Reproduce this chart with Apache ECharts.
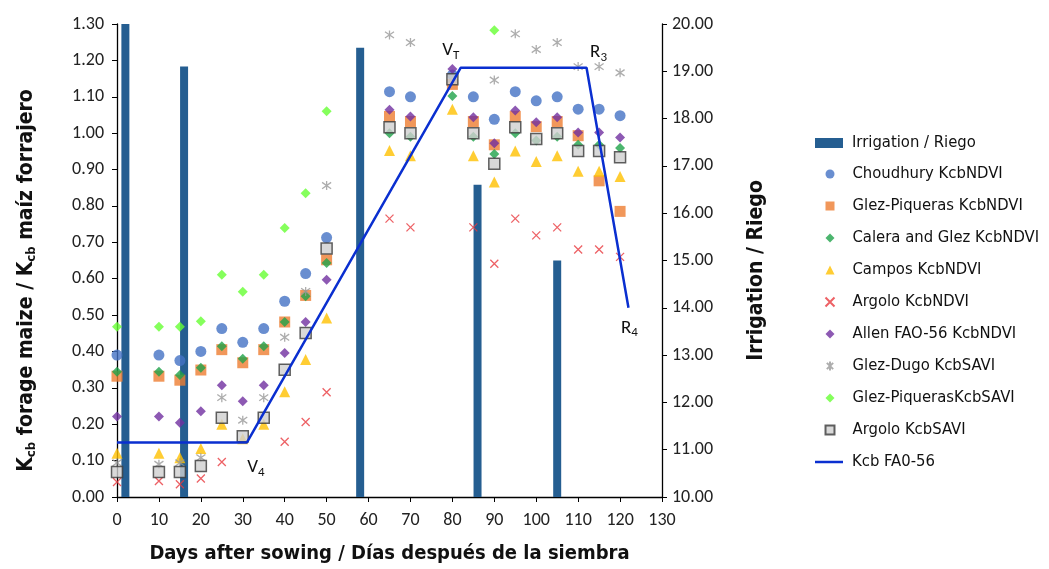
<!DOCTYPE html>
<html>
<head>
<meta charset="utf-8">
<script src="https://cdn.jsdelivr.net/npm/echarts@6/dist/echarts.min.js"></script>
<style>
  html, body { margin: 0; padding: 0; background: #fff; }
  #chart { width: 1049px; height: 569px; }
</style>
</head>
<body>
<div id="chart"></div>
<script>
// dias de muestreo
var days = [0, 10, 15, 20, 25, 30, 35, 40, 45, 50, 65, 70, 80, 85, 90, 95, 100, 105, 110, 115, 120];

var choudhury   = [0.39, 0.39, 0.375, 0.40, 0.463, 0.425, 0.463, 0.538, 0.614, 0.713, 1.114, 1.10, 1.16, 1.10, 1.038, 1.114, 1.089, 1.10, 1.066, 1.066, 1.048];
var glezPiqNdvi = [0.332, 0.332, 0.321, 0.349, 0.405, 0.369, 0.405, 0.481, 0.554, 0.652, 1.046, 1.032, 1.134, 1.032, 0.968, 1.046, 1.018, 1.032, 0.993, 0.869, 0.785];
var calera      = [0.344, 0.344, 0.335, 0.355, 0.414, 0.38, 0.414, 0.481, 0.552, 0.643, 1.0, 0.99, 1.102, 0.99, 0.943, 1.0, 0.98, 0.99, 0.968, 0.968, 0.959];
var campos      = [0.12, 0.12, 0.108, 0.133, 0.2, 0.16, 0.2, 0.289, 0.378, 0.492, 0.952, 0.938, 1.066, 0.938, 0.866, 0.951, 0.922, 0.938, 0.895, 0.895, 0.881];
var argoloNdvi  = [0.041, 0.044, 0.035, 0.051, 0.096, null, null, 0.152, 0.206, 0.288, 0.765, 0.741, null, 0.741, 0.641, 0.765, 0.719, 0.741, 0.68, 0.68, 0.66];
var allen       = [0.221, 0.221, 0.204, 0.236, 0.307, 0.263, 0.307, 0.396, 0.481, 0.597, 1.064, 1.046, 1.176, 1.044, 0.972, 1.062, 1.03, 1.044, 1.002, 1.002, 0.988];
var glezDugo    = [0.094, 0.09, 0.094, 0.108, 0.273, 0.211, 0.273, 0.439, 0.565, 0.856, 1.27, 1.249, 1.15, null, 1.146, 1.273, 1.23, 1.249, 1.183, 1.183, 1.166];
var glezPiqSavi = [0.468, 0.468, 0.468, 0.483, 0.611, 0.564, 0.611, 0.739, 0.835, 1.06, null, null, null, null, 1.283, null, null, null, null, null, null];
var argoloSavi  = [0.069, 0.069, 0.069, 0.085, 0.218, 0.167, 0.218, 0.35, 0.451, 0.683, 1.016, 1.0, 1.148, 1.0, 0.916, 1.016, 0.984, 1.0, 0.951, 0.951, 0.934];

// riegos (eje derecho)
var irrDays = [2, 16, 58, 86, 105];
var irrValues = [20, 19.1, 19.5, 16.6, 15.0];

// curva Kcb FAO-56
var kcbDays = [0, 31, 82, 112, 122];
var kcbValues = [0.15, 0.15, 1.18, 1.18, 0.52];
var stageNames = ['', '{a|V}{s|4}', '{a|V}{s|T}', '{a|R}{s|3}', '{a|R}{s|4}'];
var stageOffsets = [[0, 0], [9, 25], [-10, -17], [12, -15], [1, 20]];

var narrow = "'Liberation Sans Narrow', 'DejaVu Sans Condensed', 'Roboto Condensed', sans-serif";
var tickFont = "Carlito, Lato, sans-serif";

function pairs(ys) {
  return days.map(function (d, i) { return [d, ys[i]]; });
}

var crossPath = 'path://M0,0L10,10M10,0L0,10';
var starPath = 'path://M1.5,1.5L8.5,8.5M8.5,1.5L1.5,8.5M5,0L5,10';

var scatterDefs = [
  { name: 'Choudhury KcbNDVI', data: choudhury, symbol: 'circle', size: 11, style: { color: '#4472c4' } },
  { name: 'Glez-Piqueras KcbNDVI', data: glezPiqNdvi, symbol: 'rect', size: 11, style: { color: '#ed7d31' } },
  { name: 'Calera and Glez KcbNDVI', data: calera, symbol: 'diamond', size: 10, style: { color: '#1fa34a' } },
  { name: 'Campos KcbNDVI', data: campos, symbol: 'triangle', size: 11, style: { color: '#ffc000' } },
  { name: 'Argolo KcbNDVI', data: argoloNdvi, symbol: crossPath, size: 8, style: { color: 'rgba(0,0,0,0)', borderColor: '#e8393e', borderWidth: 1.3 } },
  { name: 'Allen FAO-56 KcbNDVI', data: allen, symbol: 'diamond', size: 10, style: { color: '#7030a0' } },
  { name: 'Glez-Dugo KcbSAVI', data: glezDugo, symbol: starPath, size: 9, style: { color: 'rgba(0,0,0,0)', borderColor: '#999999', borderWidth: 1.3 } },
  { name: 'Glez-PiquerasKcbSAVI', data: glezPiqSavi, symbol: 'diamond', size: 10, style: { color: '#66ff33' } },
  { name: 'Argolo KcbSAVI', data: argoloSavi, symbol: 'rect', size: 11, style: { color: '#d0d0d0', borderColor: '#3a3a3a', borderWidth: 1.5 } }
];

var series = [{
  name: 'Irrigation / Riego',
  type: 'bar',
  yAxisIndex: 1,
  barWidth: 8,
  clip: true,
  itemStyle: { color: '#255e91' },
  data: irrDays.map(function (d, i) { return [d, irrValues[i]]; })
}];

scatterDefs.forEach(function (s) {
  series.push({
    name: s.name,
    type: 'scatter',
    symbol: s.symbol,
    symbolSize: s.size,
    itemStyle: s.style,
    data: pairs(s.data)
  });
});

series.push({
  name: 'Kcb FA0-56',
  type: 'line',
  symbol: 'circle',
  symbolSize: 0,
  lineStyle: { color: '#0a2fd0', width: 2.5 },
  itemStyle: { color: '#0a2fd0' },
  data: kcbDays.map(function (d, i) {
    return {
      value: [d, kcbValues[i]],
      label: {
        show: stageNames[i] !== '',
        position: 'inside',
        offset: stageOffsets[i],
        formatter: stageNames[i],
        rich: {
          a: { fontSize: 19, fontFamily: tickFont, color: '#111' },
          s: { fontSize: 13, fontFamily: tickFont, color: '#111', padding: [10, 0, 0, 0] }
        }
      }
    };
  })
});

function legendText(padLeft) {
  return { fontFamily: narrow, fontSize: 16.5, color: '#111', lineHeight: 20, padding: [0, 0, 0, padLeft] };
}

var chart = echarts.init(document.getElementById('chart'));
chart.setOption({
  animation: false,
  backgroundColor: '#fff',
  grid: { left: 117, right: 387, top: 24, bottom: 71 },
  legend: [{
    orient: 'vertical', left: 815, top: 133, padding: 0,
    itemWidth: 28, itemHeight: 10,
    textStyle: legendText(4),
    data: [{ name: 'Irrigation / Riego', icon: 'rect' }]
  }, {
    orient: 'vertical', left: 824.5, top: 164, padding: 0,
    itemWidth: 9, itemHeight: 9, itemGap: 12,
    textStyle: legendText(13),
    data: scatterDefs.map(function (s) { return s.name; })
  }, {
    orient: 'vertical', left: 815, top: 452, padding: 0,
    itemWidth: 28, itemHeight: 2.5,
    textStyle: legendText(4),
    data: [{ name: 'Kcb FA0-56', icon: 'rect' }]
  }],
  xAxis: {
    type: 'value', min: 0, max: 130, interval: 10,
    name: 'Days after sowing / Días después de la siembra',
    nameLocation: 'middle', nameGap: 47,
    nameTextStyle: { fontFamily: narrow, fontSize: 20, fontWeight: 'bold', color: '#111' },
    axisLine: { lineStyle: { color: '#000', width: 1.3 } },
    axisTick: { length: 5, lineStyle: { color: '#000' } },
    axisLabel: { margin: 14, fontFamily: tickFont, fontSize: 18, color: '#222' },
    splitLine: { show: false }
  },
  yAxis: [{
    type: 'value', min: 0, max: 1.3, interval: 0.1,
    name: '{b|K}{bs|cb}{b| forage maize / }{b|K}{bs|cb}{b| maíz forrajero}',
    nameLocation: 'middle', nameGap: 79, nameRotate: 90,
    nameTextStyle: {
      padding: [0, 40, 0, 0],
      rich: {
        b: { fontFamily: narrow, fontSize: 21, fontWeight: 'bold', color: '#111' },
        bs: { fontFamily: narrow, fontSize: 13, fontWeight: 'bold', color: '#111', padding: [10, 0, 0, 0] }
      }
    },
    axisLine: { show: true, lineStyle: { color: '#000', width: 1.3 } },
    axisTick: { show: true, length: 5, lineStyle: { color: '#000' } },
    axisLabel: { margin: 13, fontFamily: tickFont, fontSize: 18, color: '#222',
      formatter: function (v) { return v.toFixed(2); } },
    splitLine: { show: false }
  }, {
    type: 'value', min: 10, max: 20, interval: 1, position: 'right',
    name: 'Irrigation / Riego',
    nameLocation: 'middle', nameGap: 84, nameRotate: 90,
    nameTextStyle: { fontFamily: narrow, fontSize: 21, fontWeight: 'bold', color: '#111', padding: [0, 20, 0, 0] },
    axisLine: { show: true, lineStyle: { color: '#000', width: 1.3 } },
    axisTick: { show: true, length: 5, lineStyle: { color: '#000' } },
    axisLabel: { margin: 10, fontFamily: tickFont, fontSize: 18, color: '#222',
      formatter: function (v) { return v.toFixed(2); } },
    splitLine: { show: false }
  }],
  series: series
});
</script>
</body>
</html>
